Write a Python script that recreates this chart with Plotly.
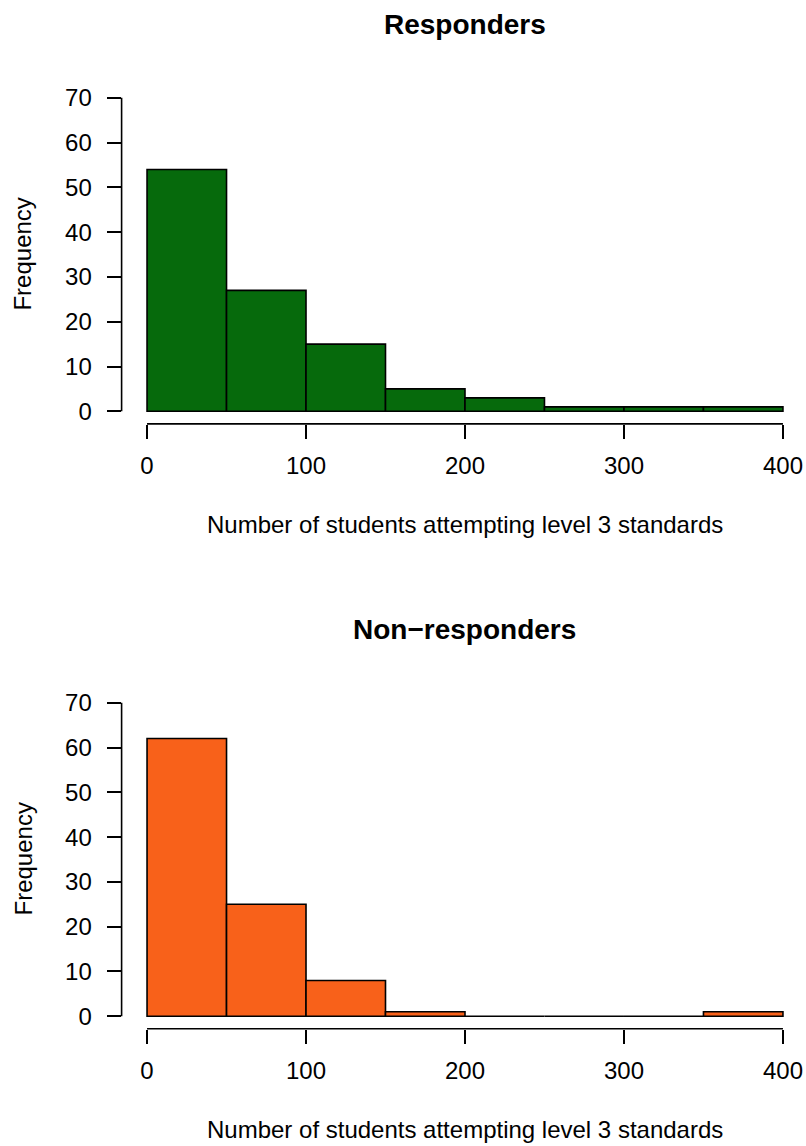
import plotly.graph_objects as go

# Histogram counts per 50-student bin
bin_edges = [0, 50, 100, 150, 200, 250, 300, 350, 400]
responders = [54, 27, 15, 5, 3, 1, 1, 1]
non_responders = [62, 25, 8, 1, 0, 0, 0, 1]

x_ticks = [0, 100, 200, 300, 400]
y_ticks = [0, 10, 20, 30, 40, 50, 60, 70]

titles = ["Responders", "Non\u2212responders"]
x_title = "Number of students attempting level 3 standards"
y_title = "Frequency"
colors = ["#066a0c", "#f8611a"]

W, H = 806, 1146
FONT = "Liberation Sans, Arial, Helvetica, sans-serif"

centers = [(a + b) / 2 for a, b in zip(bin_edges[:-1], bin_edges[1:])]
widths = [b - a for a, b in zip(bin_edges[:-1], bin_edges[1:])]

# plot-region geometry in pixels (left, top/bottom of each panel)
left_px = 121.6
panels_px = [(84.4, 423.6), (690.4, 1029.6)]
x_range = [-16, 414.5]
y_range = [-2.8, 72.8]

fig = go.Figure()
layout = dict(
    width=W, height=H,
    margin=dict(l=0, r=0, t=0, b=0),
    paper_bgcolor="white", plot_bgcolor="white",
    showlegend=False,
    font=dict(family=FONT, color="black", size=24),
    shapes=[], annotations=[],
)

for i, (counts, col) in enumerate(zip([responders, non_responders], colors)):
    n = "" if i == 0 else str(i + 1)
    xa, ya = "x" + n, "y" + n
    top_px, bot_px = panels_px[i]
    fig.add_trace(go.Bar(
        x=centers, y=counts, width=widths,
        marker=dict(color=col, line=dict(color="black", width=1.6)),
        xaxis=xa, yaxis=ya, hoverinfo="x+y",
    ))
    layout["xaxis" + n] = dict(
        domain=[left_px / W, 1.0], range=x_range, anchor=ya,
        tickmode="array", tickvals=x_ticks, ticks="outside",
        ticklen=14, tickwidth=1.6, tickcolor="black",
        showgrid=False, zeroline=False, showline=False,
        tickfont=dict(size=24), ticklabelstandoff=6,
    )
    layout["yaxis" + n] = dict(
        domain=[1 - bot_px / H, 1 - top_px / H], range=y_range, anchor=xa,
        tickmode="array", tickvals=y_ticks, ticks="outside",
        ticklen=14, tickwidth=1.6, tickcolor="black",
        showgrid=False, zeroline=False, showline=False,
        tickfont=dict(size=24), ticklabelstandoff=10,
    )
    # axis lines spanning only the tick range
    layout["shapes"].append(dict(
        type="line", xref=xa + " domain", yref=ya,
        x0=0, x1=0, y0=y_ticks[0], y1=y_ticks[-1],
        line=dict(color="black", width=1.6),
    ))
    layout["shapes"].append(dict(
        type="line", xref=xa, yref=ya + " domain",
        x0=x_ticks[0], x1=x_ticks[-1], y0=0, y1=0,
        line=dict(color="black", width=1.6),
    ))
    # panel title
    layout["annotations"].append(dict(
        text="<b>%s</b>" % titles[i], xref=xa, yref="paper",
        x=200, y=1 - (top_px - 61) / H, showarrow=False,
        font=dict(size=28), xanchor="center", yanchor="middle",
    ))
    # x axis title
    layout["annotations"].append(dict(
        text=x_title, xref=xa, yref="paper",
        x=200, y=1 - (bot_px + 101) / H, showarrow=False,
        font=dict(size=24), xanchor="center", yanchor="middle",
    ))
    # y axis title
    layout["annotations"].append(dict(
        text=y_title, xref="paper", yref=ya + " domain",
        x=23 / W, y=0.5, showarrow=False, textangle=-90,
        font=dict(size=24), xanchor="center", yanchor="middle",
    ))

fig.update_layout(**layout)
fig.write_html("out.html")
